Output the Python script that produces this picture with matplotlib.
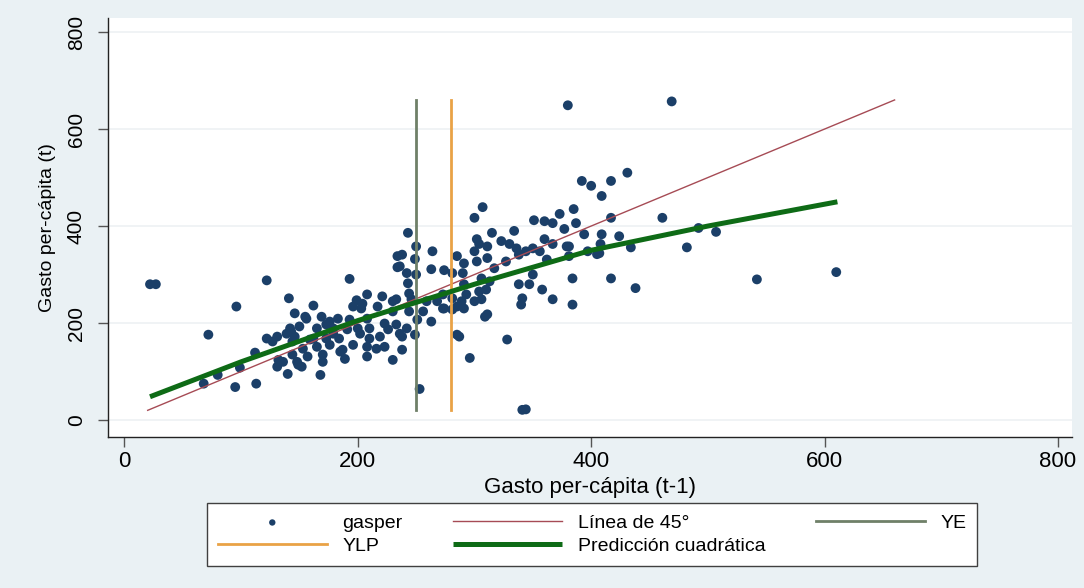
import matplotlib
matplotlib.use("Agg")
import matplotlib.pyplot as plt
import numpy as np

plt.rcParams['font.family'] = ['Liberation Sans', 'DejaVu Sans']

# ---- data ----
gasper_x = [22, 27, 72, 96, 122, 141, 146, 112, 99, 80, 68, 95, 113, 131, 140, 136, 148, 132,
            122, 131, 139, 146, 127, 144, 193, 162, 234, 234,
            243, 250, 264, 238, 249, 285, 236, 242, 250, 263, 274, 281, 243, 244, 208, 221, 233,
            199, 196, 203, 217, 230, 246, 259, 268, 274, 281, 244, 256, 251, 263, 155, 169, 176,
            183, 193, 208, 223, 233, 242, 142, 150, 165, 179, 191, 202, 210, 226, 236, 249, 285,
            159, 173, 184, 210, 219, 238, 153, 165, 176, 187, 208, 216, 223, 238, 144, 157, 170,
            189, 208, 230, 152, 170, 168, 253,
            300, 307, 302, 315, 334, 304, 311, 323, 330, 351, 360, 367, 373, 385, 387, 377, 336,
            344, 350, 360, 367, 381, 291, 302, 311, 317, 327, 338, 290, 306, 313, 291, 304, 310,
            350, 338, 347, 358, 384, 273, 281, 289, 293, 300, 306, 273, 285, 291, 311, 340, 341,
            367, 384, 287, 296, 328, 341, 344, 309,
            392, 400, 409, 417, 394, 409, 424, 417, 300, 356, 379, 408, 407, 362, 381, 397, 417,
            380, 469, 431, 461, 434, 405, 492, 507, 482, 438, 542, 610,
            156, 143, 173, 179, 162, 149, 185, 196, 200, 230, 204]
gasper_y = [280, 280, 176, 234, 288, 251, 220, 139, 108, 93, 75, 68, 75, 110, 95, 120, 120, 124,
            168, 172, 178, 172, 162, 162, 291, 236, 338, 315,
            386, 358, 348, 341, 332, 338, 317, 303, 300, 311, 309, 303, 282, 261, 259, 255, 249,
            247, 234, 230, 234, 224, 249, 245, 245, 230, 228, 224, 224, 207, 203, 213, 213, 203,
            209, 207, 209, 199, 197, 189, 189, 193, 189, 189, 187, 178, 189, 187, 178, 176, 176,
            166, 168, 168, 168, 172, 172, 147, 151, 155, 145, 151, 147, 151, 145, 135, 131, 135,
            126, 131, 124, 110, 120, 93, 64,
            417, 439, 373, 386, 390, 363, 358, 369, 363, 412, 410, 406, 425, 435, 406, 394, 354,
            348, 354, 373, 363, 358, 323, 327, 334, 313, 327, 341, 303, 292, 286, 280, 265, 269,
            300, 280, 280, 269, 292, 259, 251, 245, 259, 245, 249, 230, 234, 230, 218, 238, 251,
            249, 238, 172, 128, 166, 21, 22, 213,
            493, 483, 462, 493, 383, 383, 379, 417, 348, 348, 358, 363, 344, 331, 338, 348, 292,
            649, 657, 510, 417, 356, 342, 396, 388, 356, 272, 290, 305,
            209, 182, 197, 178, 168, 114, 141, 155, 189, 245, 240]

line45_x = [20, 660]
line45_y = [20, 660]
ye_x = [250, 250]
ye_y = [20, 660]
ylp_x = [280, 280]
ylp_y = [20, 660]
quad_x = [22, 100, 200, 300, 400, 500, 611]
quad_y = [48, 120, 205, 280, 350, 400, 450]

ticks = [0, 200, 400, 600, 800]

# ---- figure ----
W, H = 1084, 588
fig = plt.figure(figsize=(W / 100, H / 100), dpi=100)
fig.patch.set_facecolor('#EAF1F4')
ax = fig.add_axes([108 / W, 1 - 437 / H, (1072 - 108) / W, (437 - 18) / H])
ax.set_facecolor('white')

ax.set_xlim(-14, 812)
ax.set_ylim(-35, 829)

ax.set_yticks(ticks)
ax.set_xticks(ticks)
ax.grid(axis='y', color='#EEF1F3', lw=1.2)
ax.set_axisbelow(True)

sc = ax.scatter(gasper_x, gasper_y, s=50, color='#1B3F68', zorder=3, label='gasper',
                edgecolors='none')
l45, = ax.plot(line45_x, line45_y, color='#A64B55', lw=1.0, zorder=4, label='Línea de 45°')
lye, = ax.plot(ye_x, ye_y, color='#6F8068', lw=2.0, zorder=4, label='YE')
lylp, = ax.plot(ylp_x, ylp_y, color='#E9A246', lw=2.0, zorder=4, label='YLP')
lq, = ax.plot(quad_x, quad_y, color='#0E6B16', lw=3.6, zorder=5,
              label='Predicción cuadrática', solid_capstyle='butt')

for s in ['top', 'right']:
    ax.spines[s].set_visible(False)
for s in ['left', 'bottom']:
    ax.spines[s].set_color('#222222')
    ax.spines[s].set_linewidth(1.0)

ax.tick_params(axis='x', direction='out', length=7, width=1, color='#555555',
               labelsize=16, pad=3)
ax.tick_params(axis='y', direction='out', length=7, width=1, color='#555555',
               labelsize=15, pad=9)
for t in ax.get_yticklabels():
    t.set_rotation(90)
    t.set_va('center')

ax.set_xlabel('Gasto per-cápita (t-1)', fontsize=16, labelpad=4)
ax.set_ylabel('Gasto per-cápita (t)', fontsize=14, labelpad=8)

leg = fig.legend(handles=[sc, lylp, l45, lq, lye],
                 labels=['gasper', 'YLP', 'Línea de 45°', 'Predicción cuadrática', 'YE'],
                 ncol=3, loc='center', bbox_to_anchor=(592 / W, 1 - 534.5 / H),
                 fontsize=14, handlelength=5.6, handletextpad=0.8, columnspacing=2.6,
                 labelspacing=0.3, borderpad=0.55, fancybox=False, framealpha=1,
                 edgecolor='#404040', scatterpoints=1, markerscale=0.65)
leg.get_frame().set_linewidth(1.0)

fig.savefig('out.png', dpi=100, facecolor=fig.get_facecolor())
